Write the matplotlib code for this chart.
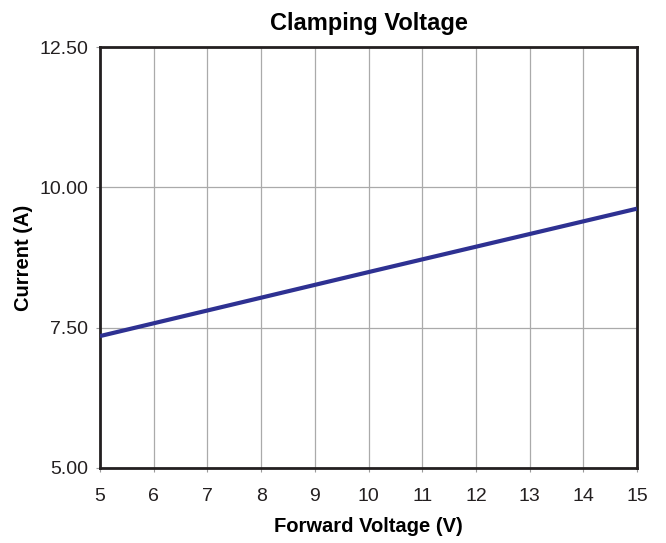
import matplotlib
matplotlib.use("Agg")
import matplotlib.pyplot as plt
from matplotlib.ticker import FormatStrFormatter

plt.rcParams["font.family"] = ["Liberation Sans", "DejaVu Sans"]

# forward voltage (V) vs current (A)
voltage = [5, 10, 15]
current = [7.35, 8.49, 9.62]

x_ticks = list(range(5, 16))
y_ticks = [5.0, 7.5, 10.0, 12.5]


def main() -> None:
    fig = plt.figure(figsize=(6.66, 5.43), dpi=100)
    ax = fig.add_axes([100 / 666, 1 - 468 / 543, 537 / 666, 421 / 543])

    ax.plot(voltage, current, color="#2e3192", linewidth=3, solid_capstyle="butt", zorder=3)

    ax.set_xlim(5, 15)
    ax.set_ylim(5, 12.5)
    ax.set_xticks(x_ticks)
    ax.set_yticks(y_ticks)
    ax.yaxis.set_major_formatter(FormatStrFormatter("%.2f"))
    ax.grid(True, color="#aaaaaa", linewidth=0.9)
    ax.set_axisbelow(True)

    for sp in ax.spines.values():
        sp.set_linewidth(2)
        sp.set_color("#231f20")
    ax.tick_params(direction="out", length=3, width=0.8, color="#999999",
                   labelsize=14, labelcolor="#231f20")
    ax.tick_params(axis="x", pad=11.5)
    ax.tick_params(axis="y", pad=5.5)

    ax.set_title("Clamping Voltage", fontsize=17, fontweight="bold", pad=12)
    ax.set_xlabel("Forward Voltage (V)", fontsize=14.5, fontweight="bold", labelpad=8.5)
    ax.set_ylabel("Current (A)", fontsize=14.5, fontweight="bold", labelpad=4.5)

    fig.savefig("out.png", dpi=100)
    plt.close(fig)


if __name__ == "__main__":
    main()
